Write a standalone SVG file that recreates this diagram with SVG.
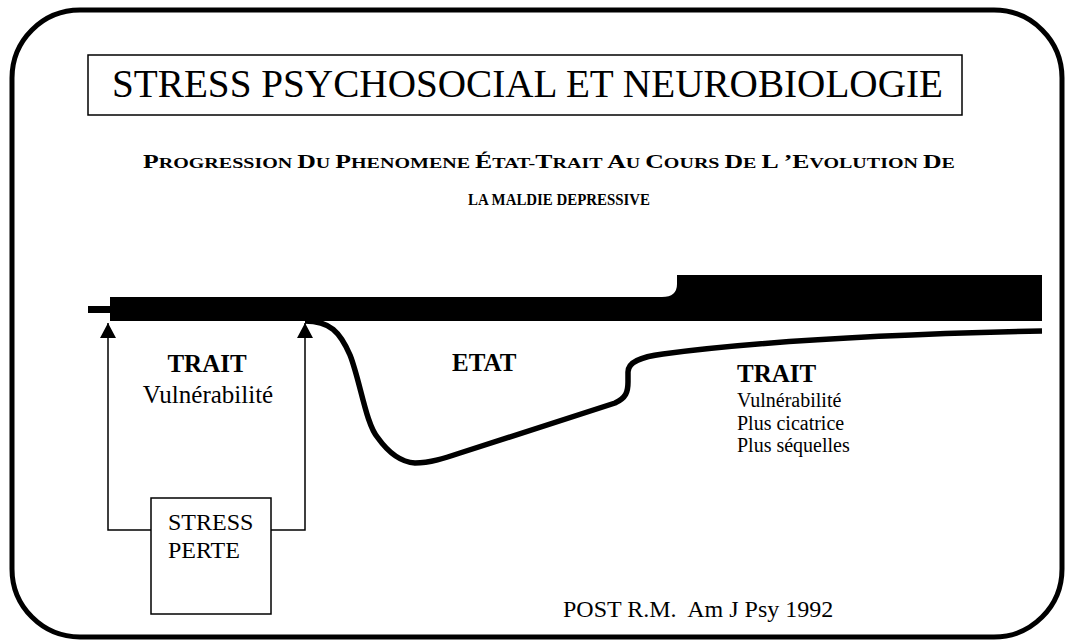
<svg xmlns="http://www.w3.org/2000/svg" width="1065" height="641" viewBox="0 0 1065 641" font-family="'Liberation Serif', 'Times New Roman', serif">
<style>
text{font-family:'Liberation Serif','Times New Roman',serif;fill:#000}
.thin{fill:none;stroke:#000;stroke-width:1.5}
</style>
<defs>
<marker id="arr" markerUnits="userSpaceOnUse" markerWidth="18" markerHeight="16" refX="15" refY="8" orient="auto">
<path d="M0,0 L15,8 L0,16 Z" fill="#000"/>
</marker>
</defs>
<rect width="1065" height="641" fill="#fff"/>
<rect id="frame" x="12" y="10" width="1050" height="627" rx="68" ry="68" fill="none" stroke="#000" stroke-width="5"/>
<g id="title">
<rect x="88" y="55" width="874" height="60" class="thin"/>
<text x="112" y="97" font-size="39" textLength="831" lengthAdjust="spacingAndGlyphs">STRESS PSYCHOSOCIAL ET NEUROBIOLOGIE</text>
</g>
<g id="subtitle" font-weight="bold">
<text x="143" y="168" textLength="812" lengthAdjust="spacingAndGlyphs" font-size="14"><tspan font-size="18">P</tspan>ROGRESSION <tspan font-size="18">D</tspan>U <tspan font-size="18">P</tspan>HENOMENE <tspan font-size="18">É</tspan>TAT-<tspan font-size="18">T</tspan>RAIT <tspan font-size="18">A</tspan>U <tspan font-size="18">C</tspan>OURS <tspan font-size="18">D</tspan>E <tspan font-size="18">L</tspan> <tspan font-size="18">’E</tspan>VOLUTION <tspan font-size="18">D</tspan>E</text>
<text x="468" y="205" font-size="17" textLength="182" lengthAdjust="spacingAndGlyphs">LA MALDIE DEPRESSIVE</text>
</g>
<g id="bar">
<rect x="88" y="306" width="24" height="7" fill="#000"/>
<path d="M110,297 L662,297 Q677,297 677,284 L677,275 L1042,275 L1042,321 L110,321 Z" fill="#000"/>
</g>
<g id="curve">
<path d="M305,321 C330,321 340,332 350,355 C360,380 366,425 378,438 C388,452 400,462 415,463 C430,463 445,458 460,453 L615,403 C626,398 628,392 628,382 L628,372 C628,362 640,357 663,354 C760,341 900,334 1042,331" fill="none" stroke="#000" stroke-width="5.5"/>
</g>
<g id="stress-box">
<rect x="151" y="498" width="120" height="116" class="thin" fill="#fff"/>
<text x="168" y="530" font-size="24">STRESS</text>
<text x="168" y="558" font-size="24">PERTE</text>
</g>
<g id="connectors">
<path d="M151,530 H108 V323" class="thin" marker-end="url(#arr)"/>
<path d="M271,530 H305 V323" class="thin" marker-end="url(#arr)"/>
</g>
<g id="trait-left">
<text x="207" y="372" font-weight="bold" font-size="25" text-anchor="middle">TRAIT</text>
<text x="208" y="403" font-size="25" text-anchor="middle">Vulnérabilité</text>
</g>
<g id="etat">
<text x="452" y="371" font-weight="bold" font-size="25">ETAT</text>
</g>
<g id="trait-right">
<text x="737" y="382" font-weight="bold" font-size="25">TRAIT</text>
<text x="737" y="407" font-size="20">Vulnérabilité</text>
<text x="737" y="430" font-size="20">Plus cicatrice</text>
<text x="737" y="452" font-size="20">Plus séquelles</text>
</g>
<g id="reference">
<text x="563" y="617" font-size="24" xml:space="preserve">POST R.M.  Am J Psy 1992</text>
</g>
</svg>
